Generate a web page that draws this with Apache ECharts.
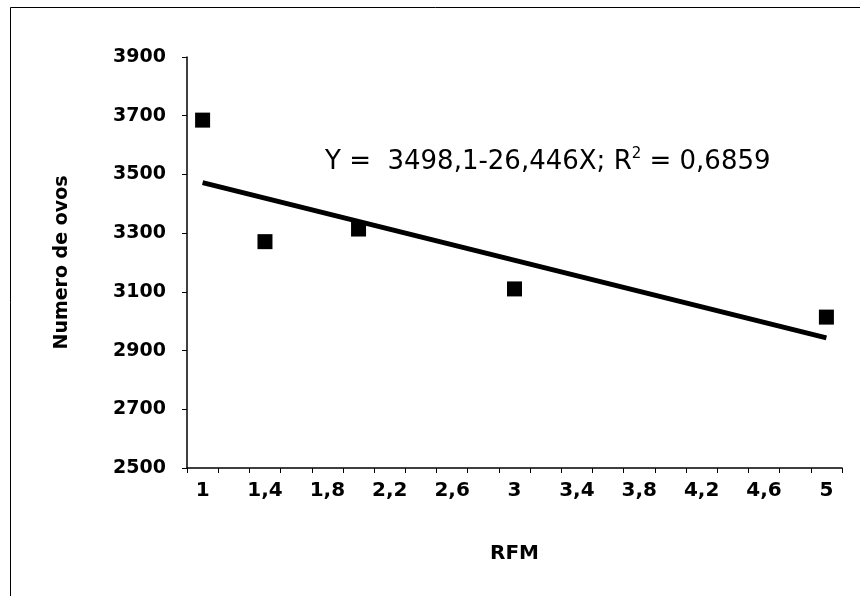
<!DOCTYPE html>
<html><head><meta charset="utf-8">
<script src="https://cdn.jsdelivr.net/npm/echarts@6/dist/echarts.min.js"></script>
<style>html,body{margin:0;padding:0;background:#fff}#c{width:860px;height:596px}</style>
</head><body><div id="c"></div>
<script>
// x-axis categories (RFM), every 0.2 from 1 to 5
var categories = ['1','1,2','1,4','1,6','1,8','2','2,2','2,4','2,6','2,8','3','3,2','3,4','3,6','3,8','4','4,2','4,4','4,6','4,8','5'];
// observed points
var rfm = ['1','1,4','2','3','5'];
var ovos = [3685, 3271, 3314, 3110, 3014];
// regression line endpoints
var trendX = ['1','5'];
var trendY = [3472, 2943];
// y ticks
var yMin = 2500, yMax = 3900, yStep = 200;

var font = 'DejaVu Sans';
var chart = echarts.init(document.getElementById('c'));
chart.setOption({
  backgroundColor:'#fff',
  animation:false,
  grid:{left:187,right:18,top:57,bottom:128},
  xAxis:{
    type:'category', data:categories, boundaryGap:true,
    name:'RFM', nameLocation:'middle', nameGap:76,
    nameTextStyle:{fontFamily:font,fontWeight:'bold',fontSize:20,color:'#000'},
    axisLine:{lineStyle:{color:'#000',width:1.5}},
    axisTick:{show:true,interval:0,length:5,lineStyle:{color:'#000'}},
    axisLabel:{interval:1,margin:13,fontFamily:font,fontWeight:'bold',fontSize:20,color:'#000'},
    splitLine:{show:false}
  },
  yAxis:{
    type:'value', min:yMin, max:yMax, interval:yStep,
    name:'Numero de ovos', nameLocation:'middle', nameGap:115, nameRotate:90,
    nameTextStyle:{fontFamily:font,fontWeight:'bold',fontSize:19,color:'#000'},
    axisLine:{show:true,lineStyle:{color:'#000',width:1.5}},
    axisTick:{show:true,length:5,lineStyle:{color:'#000'}},
    axisLabel:{margin:21,fontFamily:font,fontWeight:'bold',fontSize:19,color:'#000',
      formatter:function(v){return String(v);}},
    splitLine:{show:false}
  },
  graphic:[
    {type:'rect',left:8,top:5,shape:{width:900,height:700},style:{fill:'none',stroke:'#000',lineWidth:1},silent:true,z:-1},
    {type:'text',left:325,top:147,style:{
      text:'{a|Y =  3498,1-26,446X; R}{s|2}{a| = 0,6859}',
      rich:{a:{fontFamily:font,fontWeight:500,fontSize:26,fill:'#000',verticalAlign:'bottom'},
            s:{fontFamily:font,fontSize:15,fill:'#000',verticalAlign:'top',padding:[0,0,13,0]}}
    }}
  ],
  series:[
    {type:'line',data:trendX.map(function(x,i){return [x,trendY[i]];}),symbol:'none',
     lineStyle:{color:'#000',width:5},z:2},
    {type:'scatter',data:rfm.map(function(x,i){return [x,ovos[i]];}),symbol:'rect',symbolSize:15,
     itemStyle:{color:'#000',opacity:1},z:3}
  ]
});
</script></body></html>
